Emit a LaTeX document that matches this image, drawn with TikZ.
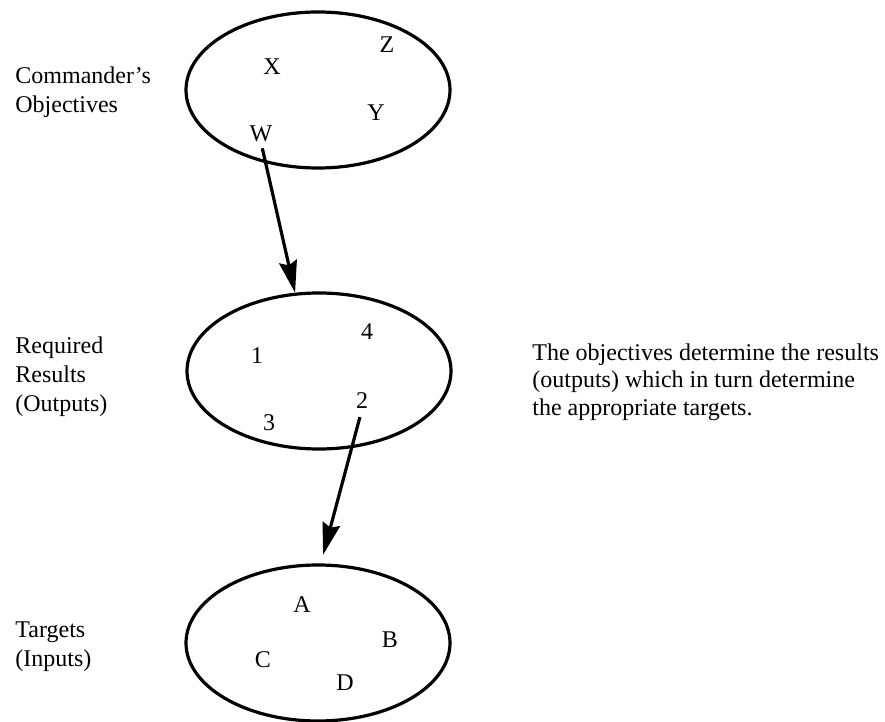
\documentclass[tikz,border=0pt]{standalone}
\usepackage{fontspec}
\setmainfont{Liberation Serif}
\usetikzlibrary{arrows.meta, shapes}

\begin{document}
\begin{tikzpicture}[x=0.5pt, y=-0.5pt]
\tikzstyle{every node}+=[inner sep=0pt, font=\fontsize{12}{14.5}\selectfont]
\tikzstyle{set}=[draw=black, line width=1.6pt, ellipse, minimum width=132pt, minimum height=78pt]
\tikzstyle{caption}=[anchor=north west, align=left]
\tikzstyle{link}=[black, line width=1.6pt, -{Stealth[length=16pt, width=9pt, inset=2pt]}]
\useasboundingbox (0,0) rectangle (885,722);
\node [set] (objectives) at (318,90) {};
\node [set] (results) at (319,371) {};
\node [set] (targets) at (318,643) {};
\node (obj-x) at (272,67) {X};
\node (obj-z) at (387,45) {Z};
\node (obj-y) at (376,113) {Y};
\node (obj-w) at (261,134) {W};
\node (res-1) at (257,356) {1};
\node (res-4) at (367,332) {4};
\node (res-2) at (362,401) {2};
\node (res-3) at (269,423) {3};
\node (tgt-a) at (302,605) {A};
\node (tgt-b) at (390,640) {B};
\node (tgt-c) at (263,660) {C};
\node (tgt-d) at (345,683) {D};
\node [caption] (objectives-label) at (15,66) {Commander's\\Objectives};
\node [caption] (results-label) at (15,336) {Required\\Results\\(Outputs)};
\node [caption] (targets-label) at (15,621) {Targets\\(Inputs)};
\node [caption, font=\fontsize{12}{13.8}\selectfont] (note) at (532,343) {The objectives determine the results\\(outputs) which in turn determine\\the appropriate targets.};
\draw [link, shorten <=3pt] (obj-w.south) -- (results.107);
\draw [link, shorten <=4pt, shorten >=4.5pt] (res-2.south) -- (targets.88);
\end{tikzpicture}
\end{document}
